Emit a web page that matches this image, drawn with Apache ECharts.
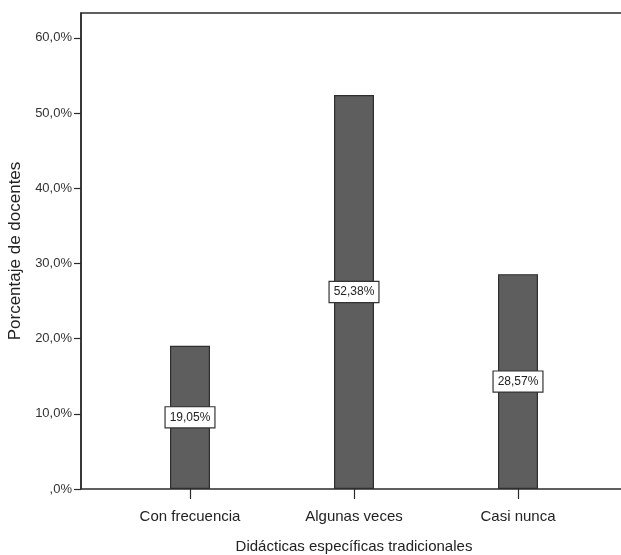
<!DOCTYPE html>
<html>
<head>
<meta charset="utf-8">
<style>
  html, body { margin: 0; padding: 0; background: #ffffff; }
  #chart { width: 621px; height: 555px; }
</style>
<script src="https://cdn.jsdelivr.net/npm/echarts@6/dist/echarts.min.js"></script>
</head>
<body>
<div id="chart"></div>
<script>
// Frequency categories and percentage of teachers in each
const categories = ['Con frecuencia', 'Algunas veces', 'Casi nunca'];
const percentages = [19.05, 52.38, 28.57];
const yTicks = [0, 10, 20, 30, 40, 50, 60];

const yMax = 63.3;
const font = '"Liberation Sans", Arial, sans-serif';

function fmtPct(v, digits) {
  let s = v.toFixed(digits).replace('.', ',');
  if (s.startsWith('0,')) s = s.slice(1);
  return s + '%';
}

const chart = echarts.init(document.getElementById('chart'), null, { renderer: 'canvas' });

chart.setOption({
  animation: false,
  backgroundColor: '#ffffff',
  textStyle: { fontFamily: font },
  grid: [
    // outer frame of the plot area (its right edge runs past the canvas)
    { left: 81, top: 13, width: 560, height: 476, outerBoundsMode: 'none', containLabel: false,
      show: true, borderColor: '#2b2b2b', borderWidth: 1.5, backgroundColor: 'transparent' },
    // inner band where the bars sit
    { left: 108, top: 13, width: 492, height: 476, outerBoundsMode: 'none', containLabel: false }
  ],
  xAxis: [
    { gridIndex: 0, type: 'value', min: 0, max: 1, show: false },
    {
      gridIndex: 1,
      type: 'category',
      data: categories,
      axisLine: { show: false },
      axisTick: { show: true, alignWithLabel: true, length: 10, lineStyle: { color: '#2b2b2b', width: 1.2 } },
      axisLabel: { color: '#222222', fontSize: 15, margin: 20, fontFamily: font },
      name: 'Didácticas específicas tradicionales',
      nameLocation: 'middle',
      nameGap: 50,
      nameTextStyle: { color: '#222222', fontSize: 15, fontFamily: font }
    }
  ],
  yAxis: [
    {
      gridIndex: 0,
      type: 'value',
      min: 0,
      max: yMax,
      interval: 10,
      splitLine: { show: false },
      axisLine: { show: true, lineStyle: { color: '#2b2b2b', width: 1.5 } },
      axisTick: { show: true, length: 7, lineStyle: { color: '#2b2b2b', width: 1.2 }, customValues: yTicks },
      axisLabel: {
        color: '#333333', fontSize: 13, margin: 9, fontFamily: font,
        customValues: yTicks,
        formatter: v => fmtPct(v, 1)
      },
      name: 'Porcentaje de docentes',
      nameLocation: 'middle',
      nameGap: 53,
      nameTextStyle: { color: '#222222', fontSize: 17, fontFamily: font }
    },
    { gridIndex: 1, type: 'value', min: 0, max: yMax, show: false }
  ],
  series: [
    {
      type: 'bar',
      xAxisIndex: 1,
      yAxisIndex: 1,
      data: percentages,
      barWidth: 40,
      itemStyle: { color: '#5e5e5e', borderColor: '#2e2e2e', borderWidth: 1.2 },
      label: {
        show: true,
        position: 'inside',
        formatter: p => fmtPct(p.value, 2),
        color: '#222222',
        fontSize: 12,
        fontFamily: font,
        backgroundColor: '#ffffff',
        borderColor: '#333333',
        borderWidth: 1.2,
        padding: [5, 4, 3, 4]
      }
    }
  ]
});
</script>
</body>
</html>
